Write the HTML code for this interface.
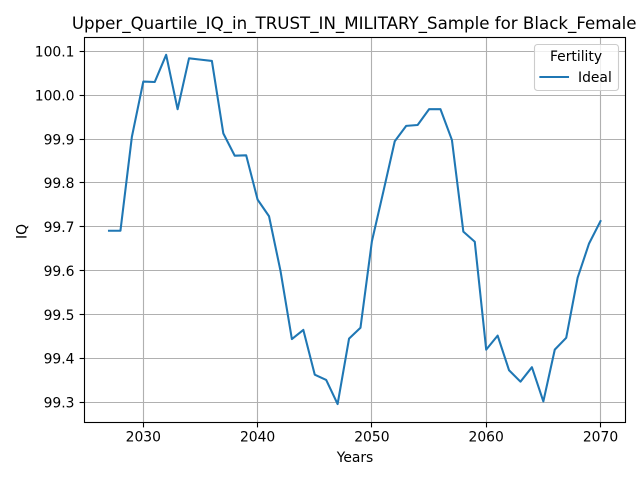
<!DOCTYPE html>
<html>
<head>
<meta charset="utf-8">
<style>
html,body{margin:0;padding:0;background:#fff;width:640px;height:480px;overflow:hidden}
svg{display:block}
text{font-family:"DejaVu Sans","Liberation Sans",sans-serif;fill:#000}
</style>
</head>
<body>
<svg id="chart" width="640" height="480" viewBox="0 0 640 480" xmlns="http://www.w3.org/2000/svg">
  <rect x="0" y="0" width="640" height="480" fill="#ffffff"/>
  <g id="grid"></g>
  <path id="series" fill="none" stroke="#1f77b4" stroke-width="2.08" stroke-linejoin="round" stroke-linecap="square"/>
  <rect x="84.5" y="37.5" width="541" height="385" fill="none" stroke="#000" stroke-width="1.11"/>
  <g id="ticks"></g>
  <text x="354.2" y="29" text-anchor="middle" font-size="16.67">Upper_Quartile_IQ_in_TRUST_IN_MILITARY_Sample for Black_Female</text>
  <text x="355" y="462" text-anchor="middle" font-size="13.89">Years</text>
  <text transform="translate(26.5,231.5) rotate(-90)" text-anchor="middle" font-size="13.89">IQ</text>
  <g>
    <rect x="534.5" y="44.5" width="84" height="46" rx="3" ry="3" fill="#ffffff" fill-opacity="0.8" stroke="#cccccc" stroke-width="1.11"/>
    <text x="576" y="61" text-anchor="middle" font-size="13.89">Fertility</text>
    <line x1="540.4" y1="77" x2="568" y2="77" stroke="#1f77b4" stroke-width="2.08" stroke-linecap="square"/>
    <text x="578" y="82" font-size="13.89">Ideal</text>
  </g>
</svg>
<script>
const years = [2027,2028,2029,2030,2031,2032,2033,2034,2035,2036,2037,2038,2039,2040,2041,2042,2043,2044,2045,2046,2047,2048,2049,2050,2051,2052,2053,2054,2055,2056,2057,2058,2059,2060,2061,2062,2063,2064,2065,2066,2067,2068,2069,2070];
const iqValues = [99.691,99.691,99.905,100.031,100.030,100.092,99.968,100.084,100.081,100.078,99.913,99.862,99.863,99.762,99.724,99.600,99.444,99.465,99.363,99.351,99.296,99.445,99.470,99.667,99.780,99.895,99.930,99.932,99.968,99.968,99.898,99.689,99.666,99.420,99.452,99.373,99.347,99.380,99.302,99.420,99.447,99.584,99.662,99.713];
const xTickValues = [2030,2040,2050,2060,2070];
const yTickValues = [99.3,99.4,99.5,99.6,99.7,99.8,99.9,100.0,100.1];

const NS = 'http://www.w3.org/2000/svg';
function xScale(v){ return 143.3 + (v - 2030) * (600.5 - 143.3) / 40; }
function yScale(v){ return 402.3 + (v - 99.3) * (51.3 - 402.3) / 0.8; }
function snap(p){ return Math.floor(p) + 0.5; }

const grid = document.getElementById('grid');
const ticks = document.getElementById('ticks');

function makeLine(x1, y1, x2, y2, stroke){
  const l = document.createElementNS(NS, 'line');
  l.setAttribute('x1', x1);
  l.setAttribute('y1', y1);
  l.setAttribute('x2', x2);
  l.setAttribute('y2', y2);
  l.setAttribute('stroke', stroke);
  l.setAttribute('stroke-width', '1.11');
  return l;
}

xTickValues.forEach(function(v){
  const x = snap(xScale(v));
  const g = makeLine(x, 37.5, x, 422.5, '#b0b0b0');
  
  
  grid.appendChild(g);
  const t = makeLine(x, 422.5, x, 427.4, '#000');
  
  
  ticks.appendChild(t);
  const s = document.createElementNS(NS, 'text');
  
  
  s.setAttribute('x', xScale(v));
  s.setAttribute('y', 441.5);
  s.setAttribute('text-anchor', 'middle');
  s.setAttribute('font-size', '13.89');
  s.textContent = String(v);
  ticks.appendChild(s);
});

yTickValues.forEach(function(v){
  const y = snap(yScale(v));
  const g = makeLine(84.5, y, 625.5, y, '#b0b0b0');
  
  
  grid.appendChild(g);
  const t = makeLine(79.6, y, 84.5, y, '#000');
  
  
  ticks.appendChild(t);
  const s = document.createElementNS(NS, 'text');
  
  
  s.setAttribute('x', 74.5);
  s.setAttribute('y', yScale(v) + 5.2);
  s.setAttribute('text-anchor', 'end');
  s.setAttribute('font-size', '13.89');
  s.textContent = v.toFixed(1);
  ticks.appendChild(s);
});

const d = years.map(function(yr, i){
  return (i ? 'L' : 'M') + xScale(yr).toFixed(2) + ' ' + yScale(iqValues[i]).toFixed(2);
}).join(' ');
document.getElementById('series').setAttribute('d', d);
</script>
</body>
</html>
